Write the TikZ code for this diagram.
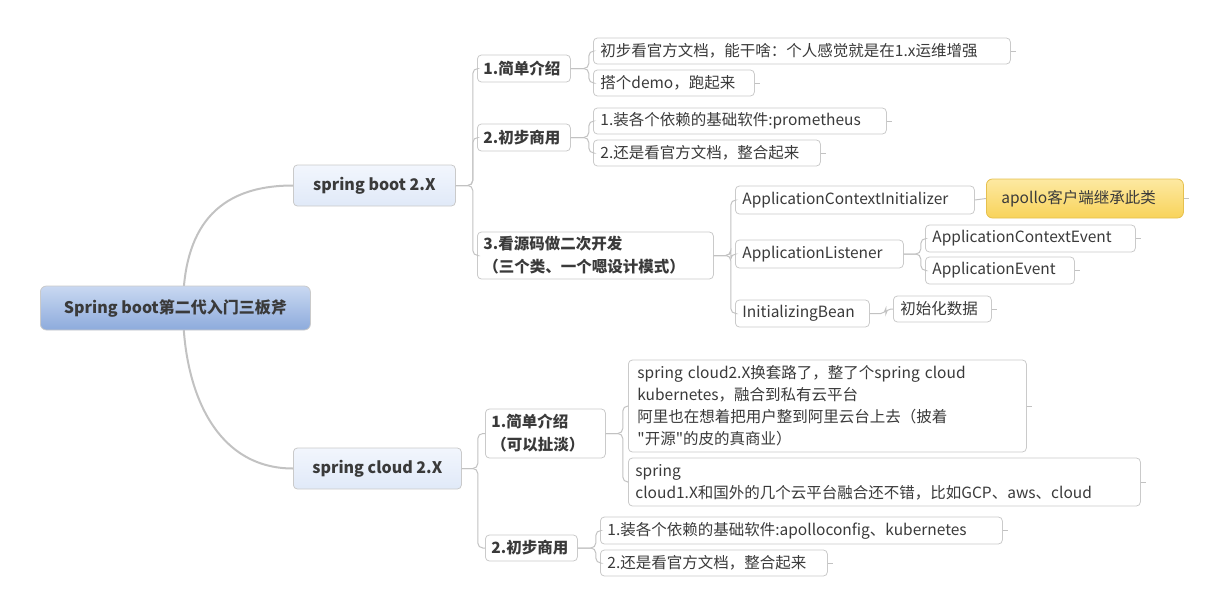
\documentclass[tikz,border=0pt]{standalone}
\usepackage{fontspec}
\setmainfont{Noto Sans CJK SC}
\newfontfamily\qfont{Noto Sans CJK SC}[Ligatures=TeXOff]
\definecolor{txt}{HTML}{3A3A3A}
\definecolor{bord}{HTML}{CACACA}
\definecolor{lnk}{HTML}{C2C2C2}
\definecolor{rootT}{HTML}{C9D8F1}
\definecolor{rootB}{HTML}{8DABDC}
\definecolor{mainT}{HTML}{F2F6FD}
\definecolor{mainB}{HTML}{E0E9F8}
\definecolor{hlT}{HTML}{FDE9A2}
\definecolor{hlB}{HTML}{F8D35A}
\definecolor{hlD}{HTML}{E6C04E}
\begin{document}
\begin{tikzpicture}[x=1pt,y=-1pt,
  base/.style={draw=bord, line width=0.8pt, rounded corners=4pt, text=txt,
    font=\fontsize{15.5}{22}\selectfont, inner xsep=7pt, inner ysep=0pt, anchor=west, align=left},
  leaf/.style={base, fill=white},
  topic/.style={base, fill=white, inner xsep=6pt, font=\fontsize{15.5}{23}\selectfont\bfseries},
  mainnode/.style={base, top color=mainT, bottom color=mainB, draw=bord, align=center,
    font=\fontsize{16}{20}\selectfont\bfseries},
  rootnode/.style={base, top color=rootT, bottom color=rootB, draw=bord, align=center,
    rounded corners=6pt, font=\fontsize{16}{20}\selectfont\bfseries},
  hlnode/.style={base, top color=hlT, bottom color=hlB, draw=hlD, rounded corners=6pt, inner xsep=15pt},
  conn/.style={draw=lnk, line width=1pt, rounded corners=5pt},
  rootconn/.style={draw=lnk, line width=2pt}]
\useasboundingbox (0,0) rectangle (1224,616);

\coordinate (rc) at (183,308);

% main topics
\node[mainnode, minimum width=162, minimum height=41] (sb) at (293,185.5) {spring boot 2.X};
\node[mainnode, minimum width=168, minimum height=41] (sc) at (293,468.5) {spring cloud 2.X};

\draw[rootconn] (rc) .. controls (183,230) and (215,185.5) .. (sb.west);
\draw[rootconn] (rc) .. controls (183,390) and (215,468.5) .. (sc.west);

\node[rootnode, minimum width=270, minimum height=44] (root) at (40,308) {Spring boot第二代入门三板斧};

% spring boot branch
\node[topic, text width=81, minimum height=27] (b1) at (477,68.5) {1.简单介绍};
\node[topic, text width=81, minimum height=27] (b2) at (477,137.5) {2.初步商用};
\node[topic, text width=224, minimum height=47] (b3) at (477,255.5) {3.看源码做二次开发\\（三个类、一个嗯设计模式）};

\node[leaf, text width=403, minimum height=26] (b1a) at (593,51) {初步看官方文档，能干啥：个人感觉就是在1.x运维增强};
\node[leaf, text width=147, minimum height=26] (b1b) at (593,83) {搭个demo，跑起来};
\node[leaf, text width=279, minimum height=26] (b2a) at (593,121) {1.装各个依赖的基础软件:prometheus};
\node[leaf, text width=213, minimum height=26] (b2b) at (593,153) {2.还是看官方文档，整合起来};

\node[leaf, text width=225, minimum height=28] (b3a) at (735,200) {ApplicationContextInitializer};
\node[leaf, text width=154, minimum height=28] (b3b) at (735,254) {ApplicationListener};
\node[leaf, text width=120, minimum height=27] (b3c) at (735,313.5) {InitializingBean};

\node[hlnode, text width=167, minimum height=39] (apo) at (986,198.5) {apollo客户端继承此类};
\node[leaf, text width=196, minimum height=27] (ev1) at (925,238.5) {ApplicationContextEvent};
\node[leaf, text width=135, minimum height=27] (ev2) at (925,270.5) {ApplicationEvent};
\node[leaf, text width=84, minimum height=26] (ini) at (893,309) {初始化数据};

% spring cloud branch
\node[topic, text width=108, minimum height=49] (c1) at (485,433.5) {1.简单介绍\\（可以扯淡）};
\node[topic, text width=80, minimum height=26] (c2) at (485,548) {2.初步商用};

\node[leaf, text width=380, minimum height=92, inner xsep=9pt] (c1a) at (628,406)
  {spring cloud2.X换套路了，整了个spring cloud\\kubernetes，融合到私有云平台\\阿里也在想着把用户整到阿里云台上去（披着\\{\qfont"}开源{\qfont"}的皮的真商业）};
\node[leaf, text width=498, minimum height=48] (c1b) at (628,482)
  {spring\\cloud1.X和国外的几个云平台融合还不错，比如GCP、aws、cloud};
\node[leaf, text width=388, minimum height=27] (c2a) at (600,530.5) {1.装各个依赖的基础软件:apolloconfig、kubernetes};
\node[leaf, text width=213, minimum height=26] (c2b) at (600,563) {2.还是看官方文档，整合起来};

% connectors
\foreach \c in {b1,b2,b3} \draw[conn] (sb.east) -- ++(17,0) |- (\c.west);
\foreach \c in {b1a,b1b} \draw[conn] (b1.east) -- ++(18,0) |- (\c.west);
\foreach \c in {b2a,b2b} \draw[conn] (b2.east) -- ++(18,0) |- (\c.west);
\foreach \c in {b3a,b3b,b3c} \draw[conn] (b3.east) -- ++(17,0) |- (\c.west);
\draw[conn] (b3a.east) -- (apo.west);
\foreach \c in {ev1,ev2} \draw[conn] (b3b.east) -- ++(17,0) |- (\c.west);
\draw[conn] (b3c.east) -- ++(16,0) |- (ini.west);
\foreach \c in {c1,c2} \draw[conn] (sc.east) -- ++(16,0) |- (\c.west);
\foreach \c in {c1a,c1b} \draw[conn] (c1.east) -- ++(17,0) |- (\c.west);
\foreach \c in {c2a,c2b} \draw[conn] (c2.east) -- ++(18,0) |- (\c.west);

% small stubs on leaf right edges
\foreach \c in {b1a,b1b,b2a,b2b,apo,ev1,ev2,ini,c1a,c1b,c2a,c2b}
  \draw[draw=lnk, line width=0.8pt] (\c.east) -- ++(5,0);
\end{tikzpicture}
\end{document}
